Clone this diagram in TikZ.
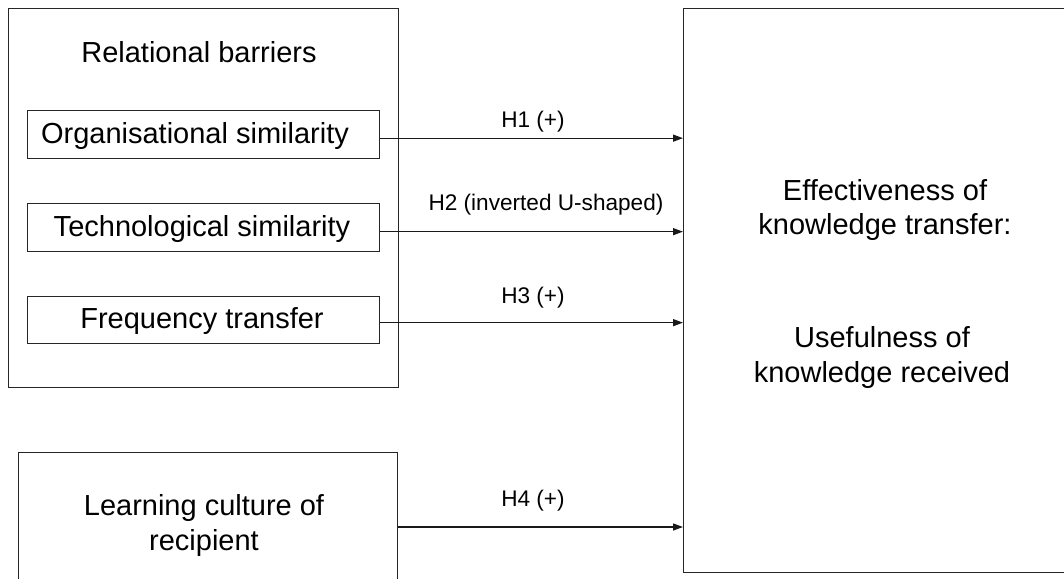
\documentclass[tikz,border=0pt]{standalone}
\usepackage{fontspec}
\setmainfont{Liberation Sans}
\usetikzlibrary{arrows.meta,calc}
\begin{document}
\begin{tikzpicture}[x=1pt,y=-1pt,
  box/.style={draw=black!85,line width=1.3pt,rectangle,inner sep=0pt,anchor=north west},
  big/.style={font=\fontsize{29}{34.5}\selectfont,align=center,inner sep=0pt},
  lab/.style={font=\fontsize{22.6}{27}\selectfont,inner sep=0pt},
  arr/.style={draw=black!90,line width=1.3pt,-{Triangle[length=10pt,width=7pt]}}
]
\useasboundingbox (0,0) rectangle (1064,578);
% boxes
\node[box,minimum width=390pt,minimum height=379pt] (outer) at (8,8) {};
\node[box,minimum width=352pt,minimum height=48pt] (org) at (27,110) {};
\node[box,minimum width=352pt,minimum height=48pt] (tech) at (27,203) {};
\node[box,minimum width=352pt,minimum height=47pt] (freq) at (27,296) {};
\node[box,minimum width=379pt,minimum height=140pt] (learn) at (18,452) {};
\node[box,minimum width=400pt,minimum height=564pt] (eff) at (683,8) {};
% texts
\node[big] (rb) at (199,52) {Relational barriers};
\node[big] (orgt) at (195,136) {Organisational similarity};
\node[big] (techt) at (202,229) {Technological similarity};
\node[big] (freqt) at (202,321.5) {Frequency transfer};
\node[big] (learnt) at (204,525.5) {Learning culture of\\recipient};
\node[big] (efft) at (885,210) {Effectiveness of\\knowledge transfer:};
\node[big] (uset) at (882,357.5) {Usefulness of\\knowledge received};
% connectors
\coordinate (a1) at ([yshift=-3.5pt]org.east);
\coordinate (a2) at ([yshift=-4pt]tech.east);
\coordinate (a3) at ([yshift=-2.5pt]freq.east);
\coordinate (a4) at (learn.east |- 0,527);
\draw[arr] (a1) -- (a1 -| eff.west);
\draw[arr] (a2) -- (a2 -| eff.west);
\draw[arr] (a3) -- (a3 -| eff.west);
\draw[arr] (a4) -- (a4 -| eff.west);
% labels
\node[lab] (h1) at (533,122) {H1 (+)};
\node[lab] (h2) at (546,205) {H2 (inverted U-shaped)};
\node[lab] (h3) at (533,298) {H3 (+)};
\node[lab] (h4) at (533,501) {H4 (+)};
\end{tikzpicture}
\end{document}
